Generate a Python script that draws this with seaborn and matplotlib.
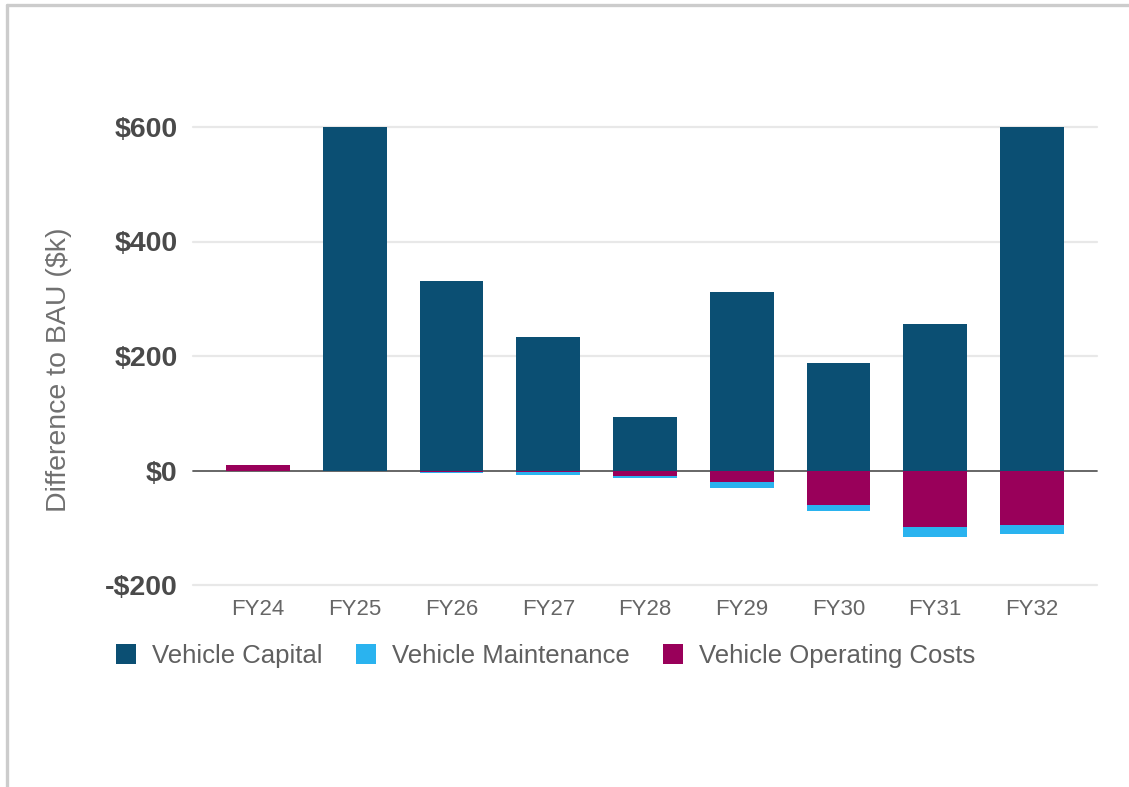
import numpy as np
import pandas as pd
import matplotlib
matplotlib.use("Agg")
import matplotlib.pyplot as plt
from matplotlib.patches import Patch
from matplotlib.lines import Line2D
import seaborn as sns

# Cost differences versus business-as-usual, in $k
years = ["FY24", "FY25", "FY26", "FY27", "FY28", "FY29", "FY30", "FY31", "FY32"]
vehicle_capital = [0, 600, 331, 233, 93, 311, 187, 256, 600]
vehicle_maintenance = [0, 0, -1, -6, -4, -11, -9, -17, -15]
vehicle_operating = [10, 0, -3, -2, -9, -20, -61, -99, -96]

y_ticks = [-200, 0, 200, 400, 600]
y_tick_labels = ["-\\$200", "\\$0", "\\$200", "\\$400", "\\$600"]
series_names = ["Vehicle Capital", "Vehicle Maintenance", "Vehicle Operating Costs"]

COL_CAPITAL = "#0b4f73"
COL_MAINT = "#2ab3ef"
COL_OPER = "#99005a"

sns.set_theme(style="white")
plt.rcParams["font.family"] = ["Liberation Sans", "DejaVu Sans"]

df = pd.DataFrame({
    "year": years,
    "capital": vehicle_capital,
    "maintenance": vehicle_maintenance,
    "operating": vehicle_operating,
})

cap = df["capital"].to_numpy(float)
ope = df["operating"].to_numpy(float)
mnt = df["maintenance"].to_numpy(float)

# positive values stack upward from zero, negative values stack downward
oper_bottom = np.where(ope >= 0, np.maximum(cap, 0), 0)
maint_bottom = np.where(mnt < 0, np.minimum(ope, 0), np.maximum(cap, 0) + np.maximum(ope, 0))

W, H = 1129, 787
fig = plt.figure(figsize=(W / 100, H / 100), dpi=100)
ax = fig.add_axes([193 / W, (H - 585) / H, 904 / W, 458 / H])

bar_kw = dict(width=0.66, saturation=1, linewidth=0, zorder=3, ax=ax, order=years)
sns.barplot(data=df, x="year", y="capital", color=COL_CAPITAL, **bar_kw)
sns.barplot(data=df, x="year", y="operating", color=COL_OPER, bottom=oper_bottom, **bar_kw)
sns.barplot(data=df, x="year", y="maintenance", color=COL_MAINT, bottom=maint_bottom, **bar_kw)

ax.set_xlim(-0.672, 8.672)
ax.set_ylim(-200, 600)
for s in ax.spines.values():
    s.set_visible(False)

# horizontal gridlines and the zero baseline
for t in y_ticks:
    if t == 0:
        ax.axhline(0, color="#5a5a5a", linewidth=1.3, zorder=2, clip_on=False)
    else:
        ax.axhline(t, color="#e8e8e8", linewidth=1.6, zorder=1, clip_on=False)

ax.set_yticks(y_ticks)
ax.set_yticklabels(y_tick_labels, fontsize=20.5, fontweight="bold", color="#4a4a4a")
ax.tick_params(axis="y", length=0, pad=11)
ax.tick_params(axis="x", length=0, pad=10, labelsize=16, labelcolor="#666666")
ax.set_xlabel("")
ax.set_ylabel("Difference to BAU (\\$k)", fontsize=20.5, color="#707070")
ax.yaxis.set_label_coords(-0.134, 0.469)

handles = [Patch(facecolor=c, edgecolor="none") for c in (COL_CAPITAL, COL_MAINT, COL_OPER)]
leg = fig.legend(handles, series_names, loc="center left",
                 bbox_to_anchor=(116 / W, 1 - 656 / H), ncol=3, frameon=False,
                 fontsize=18.5, handlelength=0.78, handleheight=0.78,
                 handletextpad=0.62, columnspacing=1.3, borderpad=0, borderaxespad=0)
for t in leg.get_texts():
    t.set_color("#606060")

# card border along the top and left edges
fig.add_artist(Line2D([7 / W, 1], [1 - 5 / H, 1 - 5 / H], transform=fig.transFigure,
                      color="#cccccc", linewidth=2.4))
fig.add_artist(Line2D([7 / W, 7 / W], [0, 1 - 5 / H], transform=fig.transFigure,
                      color="#cccccc", linewidth=2.4))

fig.savefig("out.png", dpi=100)
